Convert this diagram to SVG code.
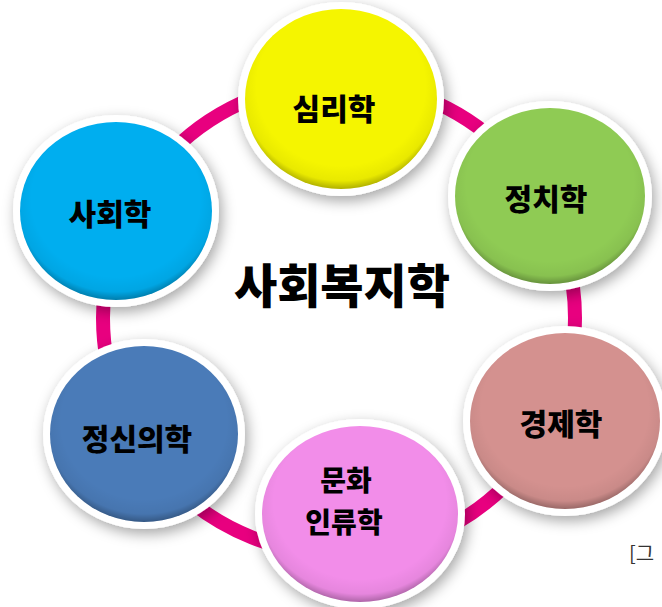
<svg xmlns="http://www.w3.org/2000/svg" width="662" height="607" viewBox="0 0 662 607">
  <defs>
    <filter id="shadow" x="-20%" y="-20%" width="150%" height="150%">
      <feDropShadow dx="3" dy="5" stdDeviation="7" flood-color="#000" flood-opacity="0.35"/>
    </filter>
    <radialGradient id="bevel" cx="50%" cy="45%" r="55%" fx="50%" fy="35%">
      <stop offset="0.80" stop-color="#000" stop-opacity="0"/>
      <stop offset="0.93" stop-color="#000" stop-opacity="0.05"/>
      <stop offset="1" stop-color="#000" stop-opacity="0.28"/>
    </radialGradient>
  </defs>
  <style>
    .ring { fill: none; stroke: #e8007f; stroke-width: 14; }
    .outer { fill: #ffffff; filter: url(#shadow); }
    .bev { fill: url(#bevel); }
    .lbl { font-family: "Noto Sans CJK KR", "Noto Sans", sans-serif; font-weight: 900; font-size: 30px; fill: #000; text-anchor: middle; dominant-baseline: central; }
    .lbl2 { font-size: 28px; }
    .title { font-family: "Noto Sans CJK KR", "Noto Sans", sans-serif; font-weight: 900; font-size: 47px; fill: #000; text-anchor: middle; dominant-baseline: central; }
    .cap { font-family: "Noto Sans CJK KR", "Noto Sans", sans-serif; font-size: 20px; fill: #333; }
  </style>
  <rect width="662" height="607" fill="#ffffff"/>
  <g id="connectors">
    <circle class="ring" cx="339" cy="318" r="236"/>
  </g>
  <g id="node-psychology">
    <ellipse class="outer" cx="341" cy="99" rx="103" ry="97"/>
    <ellipse cx="341" cy="99" rx="96" ry="90" fill="#f5f500"/>
    <ellipse class="bev" cx="341" cy="99" rx="96" ry="90"/>
    <text class="lbl" x="334" y="107">심리학</text>
  </g>
  <g id="node-politics">
    <ellipse class="outer" cx="550" cy="196" rx="102" ry="95"/>
    <ellipse cx="550" cy="196" rx="95" ry="88" fill="#8fcb54"/>
    <ellipse class="bev" cx="550" cy="196" rx="95" ry="88"/>
    <text class="lbl" x="546" y="197">정치학</text>
  </g>
  <g id="node-economics">
    <ellipse class="outer" cx="565" cy="421" rx="102" ry="95"/>
    <ellipse cx="565" cy="421" rx="95" ry="88" fill="#d4918f"/>
    <ellipse class="bev" cx="565" cy="421" rx="95" ry="88"/>
    <text class="lbl" x="561" y="422">경제학</text>
  </g>
  <g id="node-anthropology">
    <ellipse class="outer" cx="360" cy="514" rx="105" ry="95"/>
    <ellipse cx="360" cy="514" rx="98" ry="88" fill="#f28de9"/>
    <ellipse class="bev" cx="360" cy="514" rx="98" ry="88"/>
    <text class="lbl lbl2" x="346" y="479">문화</text>
    <text class="lbl lbl2" x="344" y="521">인류학</text>
  </g>
  <g id="node-psychiatry">
    <ellipse class="outer" cx="144" cy="434" rx="101" ry="95"/>
    <ellipse cx="144" cy="434" rx="94" ry="88" fill="#4a7bb8"/>
    <ellipse class="bev" cx="144" cy="434" rx="94" ry="88"/>
    <text class="lbl" x="137" y="437">정신의학</text>
  </g>
  <g id="node-sociology">
    <ellipse class="outer" cx="116" cy="211" rx="103" ry="96"/>
    <ellipse cx="116" cy="211" rx="96" ry="89" fill="#00aeef"/>
    <ellipse class="bev" cx="116" cy="211" rx="96" ry="89"/>
    <text class="lbl" x="110" y="212">사회학</text>
  </g>
  <g id="center">
    <text class="title" x="342" y="282">사회복지학</text>
  </g>
  <text class="cap" x="629" y="561">[그</text>
</svg>
